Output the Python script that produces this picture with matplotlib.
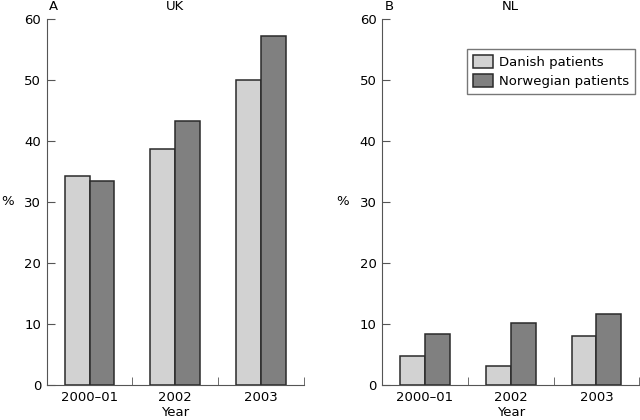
import numpy as np
import matplotlib.pyplot as plt
from matplotlib.ticker import FixedLocator, NullFormatter

# Данные (проценты)
years = ['2000–01', '2002', '2003']
uk_danish = [34.3, 38.6, 49.9]
uk_norwegian = [33.4, 43.3, 57.1]
nl_danish = [4.8, 3.1, 8.0]
nl_norwegian = [8.3, 10.2, 11.6]

light = '#d2d2d2'
dark = '#808080'
edge = '#2a2a2a'
axis_col = '#555555'

plt.rcParams['font.family'] = ['DejaVu Sans']
plt.rcParams['font.size'] = 9

fig = plt.figure(figsize=(6.4, 4.2), dpi=100)
ax1 = fig.add_axes([0.073, 0.0833, 0.402, 0.872])
ax2 = fig.add_axes([0.597, 0.0833, 0.402, 0.872])

x = np.arange(len(years))
w = 0.29

panels = [(ax1, uk_danish, uk_norwegian, 'A', 'UK'),
          (ax2, nl_danish, nl_norwegian, 'B', 'NL')]

for ax, dan, nor, letter, name in panels:
    ax.bar(x - w / 2, dan, w, color=light, edgecolor=edge, linewidth=1.1,
           label='Danish patients')
    ax.bar(x + w / 2, nor, w, color=dark, edgecolor=edge, linewidth=1.1,
           label='Norwegian patients')
    ax.set_xlim(-0.5, 2.5)
    ax.set_ylim(0, 60)
    ax.set_yticks(range(0, 61, 10))
    ax.set_xticks(x)
    ax.set_xticklabels(years)
    ax.xaxis.set_minor_locator(FixedLocator([0.5, 1.5, 2.5]))
    ax.xaxis.set_minor_formatter(NullFormatter())
    ax.tick_params(axis='x', which='major', length=0, pad=4, labelsize=9.5)
    ax.tick_params(axis='x', which='minor', direction='in', length=6,
                   color=axis_col)
    ax.tick_params(axis='y', direction='in', length=6, color=axis_col,
                   pad=4, labelsize=9.5)
    for s in ['top', 'right']:
        ax.spines[s].set_visible(False)
    for s in ['left', 'bottom']:
        ax.spines[s].set_color(axis_col)
    ax.set_xlabel('Year', fontsize=9.5, labelpad=2)
    ax.set_ylabel('%', rotation=0, fontsize=9.5, labelpad=12, va='center')
    ax.text(0.01, 1.033, letter, transform=ax.transAxes, fontsize=9.5,
            va='center', ha='left')
    ax.text(0.5, 1.033, name, transform=ax.transAxes, fontsize=9.5,
            va='center', ha='center')

leg = ax2.legend(loc='upper right', bbox_to_anchor=(1.01, 0.935),
                 frameon=True, fancybox=False, fontsize=9.5,
                 handlelength=1.5, handleheight=1.1, borderpad=0.45,
                 labelspacing=0.4, handletextpad=0.5)
leg.get_frame().set_edgecolor('#555555')
leg.get_frame().set_linewidth(1.0)

fig.savefig('out.png', dpi=100)
